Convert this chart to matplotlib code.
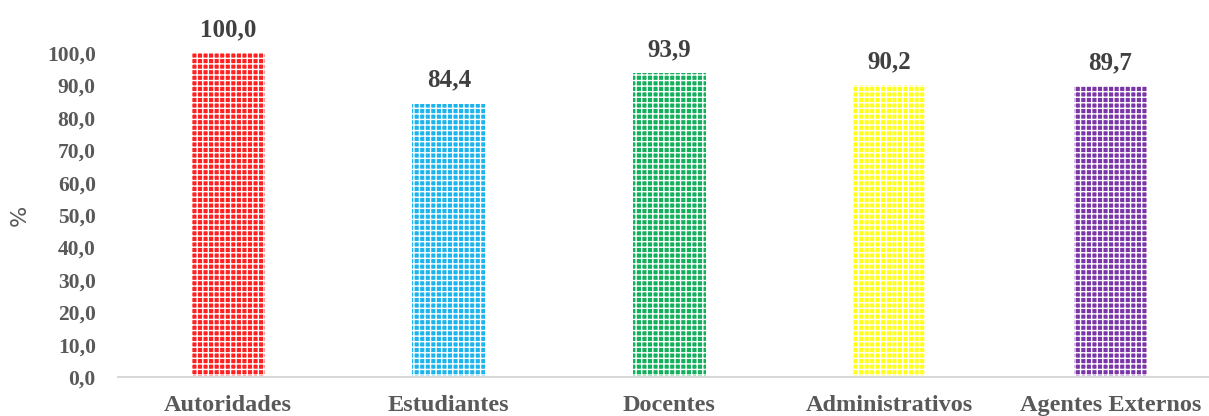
import numpy as np
import matplotlib
matplotlib.use("Agg")
import matplotlib.pyplot as plt

categories = ["Autoridades", "Estudiantes", "Docentes", "Administrativos", "Agentes Externos"]
values = [100.0, 84.4, 93.9, 90.2, 89.7]
bar_colors = ["#FF2020", "#1CB4EC", "#12B05A", "#FFFF1A", "#7A35A8"]
y_ticks = np.arange(0, 101, 10)

plt.rcParams["hatch.linewidth"] = 1.0

fig = plt.figure(figsize=(12.09, 4.16), dpi=100)
ax = fig.add_axes([118 / 1209, 39 / 416, 1102.5 / 1209, 324 / 416])

x = np.arange(len(categories))
bars = ax.bar(x, values, width=0.33, color=bar_colors, edgecolor="white",
              linewidth=0, hatch="+++", zorder=2)

# value labels on top of the bars
for xi, v in zip(x, values):
    ax.annotate(f"{v:.1f}".replace(".", ","), (xi, v), xytext=(0, 8.5),
                textcoords="offset points", ha="center", va="bottom",
                fontsize=18, fontweight="bold", family="Liberation Serif",
                color="#404040", annotation_clip=False)

ax.set_xlim(-0.5, 4.5)
ax.set_ylim(0, 100)
ax.set_yticks(y_ticks)
ax.set_yticklabels([f"{t:.1f}".replace(".", ",") for t in y_ticks])
ax.set_xticks(x)
ax.set_xticklabels(categories)

for lbl in ax.get_yticklabels():
    lbl.set_fontsize(15.5)
    lbl.set_fontweight("bold")
    lbl.set_family("Liberation Serif")
    lbl.set_color("#595959")
for lbl in ax.get_xticklabels():
    lbl.set_fontsize(17.5)
    lbl.set_fontweight("bold")
    lbl.set_family("Liberation Serif")
    lbl.set_color("#595959")

ax.tick_params(axis="y", length=0, pad=16)
ax.tick_params(axis="x", length=0, pad=13)

ax.set_ylabel("%", fontsize=16, color="#595959", labelpad=12)

for s in ["top", "right", "left"]:
    ax.spines[s].set_visible(False)
ax.spines["bottom"].set_color("#D9D9D9")
ax.spines["bottom"].set_linewidth(1.5)
ax.set_facecolor("white")

fig.savefig("out.png", dpi=100)
